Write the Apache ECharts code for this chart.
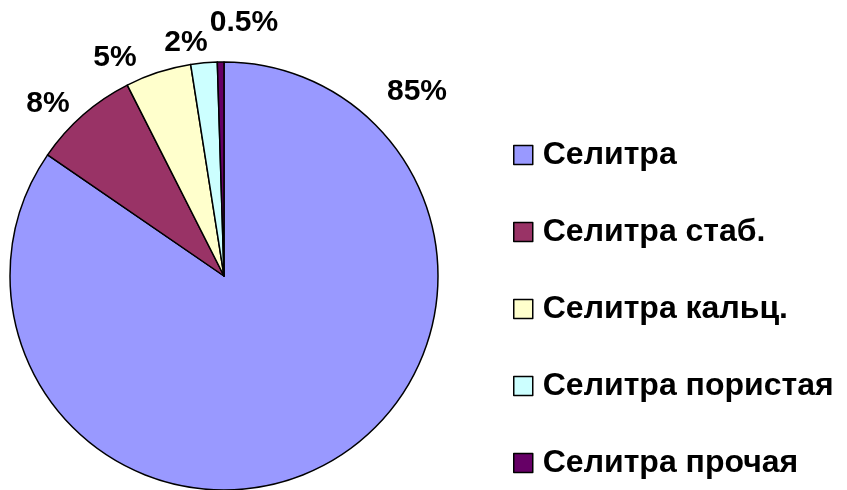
<!DOCTYPE html>
<html>
<head>
<meta charset="utf-8">
<script src="https://cdn.jsdelivr.net/npm/echarts@6/dist/echarts.min.js"></script>
<style>
  html, body { margin: 0; padding: 0; background: #fff; }
  #echarts { width: 847px; height: 490px; }
</style>
</head>
<body>
<div id="echarts"></div>
<script>
// данные
var categories = ["Селитра", "Селитра стаб.", "Селитра кальц.", "Селитра пористая", "Селитра прочая"];
var values = [85, 8, 5, 2, 0.5];
var valueLabels = ["85%", "8%", "5%", "2%", "0.5%"];
var colors = ["#9999FF", "#993366", "#FFFFCC", "#CCFFFF", "#660066"];

// где стоят подписи (центр текста)
var labelPos = [[417, 92], [48, 104], [115, 58], [186, 43], [244, 23]];

var chartDom = document.getElementById("echarts");
var myChart = echarts.init(chartDom);
var option;

option = {
  animation: false,
  color: colors,
  textStyle: {
    fontFamily: "Liberation Sans, Arial, sans-serif",
  },
  legend: {
    orient: "vertical",
    left: 513,
    top: 139,
    padding: 0,
    icon: "rect",
    itemWidth: 19,
    itemHeight: 19,
    itemGap: 45,
    selectedMode: false,
    itemStyle: {
      borderColor: "#000",
      borderWidth: 1.5,
    },
    textStyle: {
      fontSize: 32,
      lineHeight: 32,
      fontWeight: "bold",
      color: "#000",
      padding: [0, 0, 0, 5],
    },
    data: categories,
  },
  series: [
    {
      type: "pie",
      radius: [0, 214],
      center: [224, 276],
      startAngle: 90,
      clockwise: true,
      itemStyle: {
        borderColor: "#000",
        borderWidth: 1.5,
      },
      label: {
        show: true,
        position: "outside",
        fontSize: 30,
        fontWeight: "bold",
        color: "#000",
        overflow: "none",
        formatter: function (p) {
          return valueLabels[p.dataIndex];
        },
      },
      labelLine: {
        show: false,
      },
      labelLayout: function (params) {
        var pos = labelPos[params.dataIndex];
        return {
          x: pos[0],
          y: pos[1],
          align: "center",
          verticalAlign: "middle",
          hideOverlap: false,
        };
      },
      emphasis: {
        disabled: true,
      },
      data: categories.map(function (name, i) {
        return { name: name, value: values[i] };
      }),
    },
  ],
};

option && myChart.setOption(option);
</script>
</body>
</html>
